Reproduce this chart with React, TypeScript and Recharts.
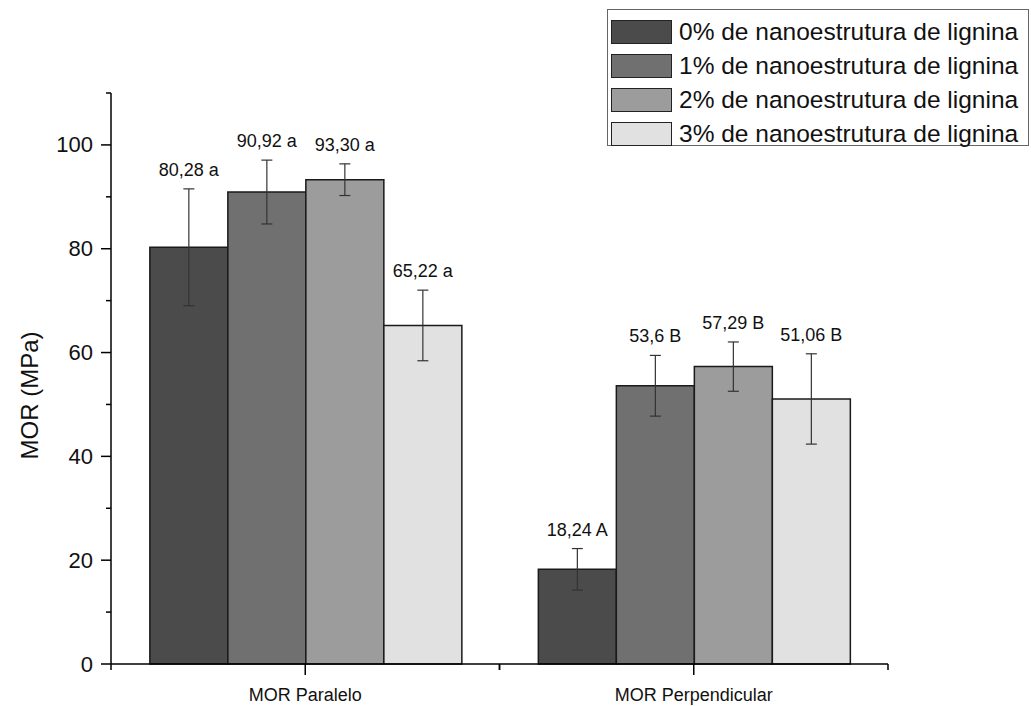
import React from "react";
import {
  BarChart,
  Bar,
  XAxis,
  YAxis,
  ErrorBar,
  LabelList,
  Legend,
} from "recharts";

const categories = ["MOR Paralelo", "MOR Perpendicular"];

const seriesNames = [
  "0% de nanoestrutura de lignina",
  "1% de nanoestrutura de lignina",
  "2% de nanoestrutura de lignina",
  "3% de nanoestrutura de lignina",
];
const seriesColors = ["#4b4b4b", "#707070", "#9c9c9c", "#e1e1e1"];

const values0 = [80.28, 18.24];
const values1 = [90.92, 53.6];
const values2 = [93.3, 57.29];
const values3 = [65.22, 51.06];

const errors0 = [11.25, 4.0];
const errors1 = [6.15, 5.85];
const errors2 = [3.05, 4.75];
const errors3 = [6.8, 8.7];

const labels0 = ["80,28 a", "18,24 A"];
const labels1 = ["90,92 a", "53,6 B"];
const labels2 = ["93,30 a", "57,29 B"];
const labels3 = ["65,22 a", "51,06 B"];

const yTicks = [0, 10, 20, 30, 40, 50, 60, 70, 80, 90, 100, 110];

const allValues = [values0, values1, values2, values3];
const allErrors = [errors0, errors1, errors2, errors3];
const allLabels = [labels0, labels1, labels2, labels3];

const data = categories.map((name, i) => {
  const row: any = { name };
  allValues.forEach((vals, s) => {
    row[`v${s}`] = vals[i];
    row[`e${s}`] = allErrors[s][i];
  });
  return row;
});

const FONT = "'Liberation Sans', Arial, sans-serif";

// label sits above the top of the error bar
const valueLabel = (p: any, labels: string[], errs: number[]) => {
  const vb = p.viewBox && p.viewBox.width !== undefined ? p.viewBox : p;
  const { x, y, width, height } = vb;
  const idx = p.index;
  const val = Number(p.value);
  if (idx === undefined || !val) return null;
  const pxPerUnit = height / val;
  const capY = y - errs[idx] * pxPerUnit;
  return (
    <text
      x={x + width / 2}
      y={capY - 13}
      textAnchor="middle"
      fontSize={18}
      fontFamily={FONT}
      fill="#111"
    >
      {labels[idx]}
    </text>
  );
};

const YTick = (props: any) => {
  const { x, y, payload } = props;
  const major = payload.value % 20 === 0;
  return (
    <g>
      <line x1={x} y1={y} x2={x - (major ? 10 : 5)} y2={y} stroke="#000" strokeWidth={1.5} />
      {major && (
        <text
          x={x - 18}
          y={y}
          textAnchor="end"
          dominantBaseline="central"
          fontSize={22}
          fontFamily={FONT}
          fill="#111"
        >
          {payload.value}
        </text>
      )}
    </g>
  );
};

const XTick = (props: any) => {
  const { x, y, payload } = props;
  const half = payload.offset || 0;
  return (
    <g>
      <line x1={x} y1={y} x2={x} y2={y + 11} stroke="#000" strokeWidth={1.5} />
      {half > 0 && (
        <>
          <line x1={x - half} y1={y} x2={x - half} y2={y + 6} stroke="#000" strokeWidth={1.5} />
          <line x1={x + half} y1={y} x2={x + half} y2={y + 6} stroke="#000" strokeWidth={1.5} />
        </>
      )}
      <text
        x={x}
        y={y + 37}
        textAnchor="middle"
        fontSize={18}
        fontFamily={FONT}
        fill="#111"
      >
        {payload.value}
      </text>
    </g>
  );
};

const YLabel = (props: any) => {
  const vb = props.viewBox;
  const cx = vb.x + 29;
  const cy = vb.y + vb.height / 2 + 17;
  return (
    <text
      x={cx}
      y={cy}
      transform={`rotate(-90 ${cx} ${cy})`}
      textAnchor="middle"
      dominantBaseline="central"
      fontSize={24}
      fontFamily={FONT}
      fill="#111"
    >
      MOR (MPa)
    </text>
  );
};

const LegendBox = () => (
  <div
    style={{
      border: "1px solid #666",
      background: "#fff",
      padding: "5px 0 0 3px",
      boxSizing: "border-box",
      width: 422,
      height: 137,
      fontFamily: FONT,
    }}
  >
    {seriesNames.map((name, i) => (
      <div key={name} style={{ display: "flex", alignItems: "center", height: 34 }}>
        <div
          style={{
            width: 61,
            height: 24,
            background: seriesColors[i],
            border: "1.5px solid #222",
            boxSizing: "border-box",
          }}
        />
        <span style={{ marginLeft: 7, fontSize: 24.5, color: "#111", whiteSpace: "nowrap" }}>
          {name}
        </span>
      </div>
    ))}
  </div>
);

export default function App() {
  return (
    <div style={{ position: "absolute", left: 0, top: 0, background: "#fff" }}>
      <BarChart
        width={1031}
        height={706}
        data={data}
        margin={{ top: 93, right: 143, bottom: 0, left: 0 }}
        barGap={0}
        barCategoryGap="10%"
      >
        <XAxis
          dataKey="name"
          height={42}
          stroke="#000"
          strokeWidth={1.5}
          tickLine={false}
          tickSize={0}
          tickMargin={0}
          tick={<XTick />}
          interval={0}
        />
        <YAxis
          width={111}
          domain={[0, 110]}
          ticks={yTicks}
          interval={0}
          stroke="#000"
          strokeWidth={1.5}
          tickLine={false}
          tickSize={0}
          tickMargin={0}
          tick={<YTick />}
          label={<YLabel />}
        />
        <Legend
          layout="vertical"
          align="center"
          verticalAlign="middle"
          content={<LegendBox />}
          wrapperStyle={{ left: 607, top: 9, width: 422, height: 137 }}
        />
        {allValues.map((_, s) => (
          <Bar
            key={s}
            dataKey={`v${s}`}
            name={seriesNames[s]}
            fill={seriesColors[s]}
            stroke="#1a1a1a"
            strokeWidth={1.5}
            isAnimationActive={false}
          >
            <ErrorBar dataKey={`e${s}`} width={5.5} stroke="#333" strokeWidth={1.2} direction="y" />
            <LabelList
              dataKey={`v${s}`}
              content={(p: any) => valueLabel(p, allLabels[s], allErrors[s])}
            />
          </Bar>
        ))}
      </BarChart>
    </div>
  );
}
